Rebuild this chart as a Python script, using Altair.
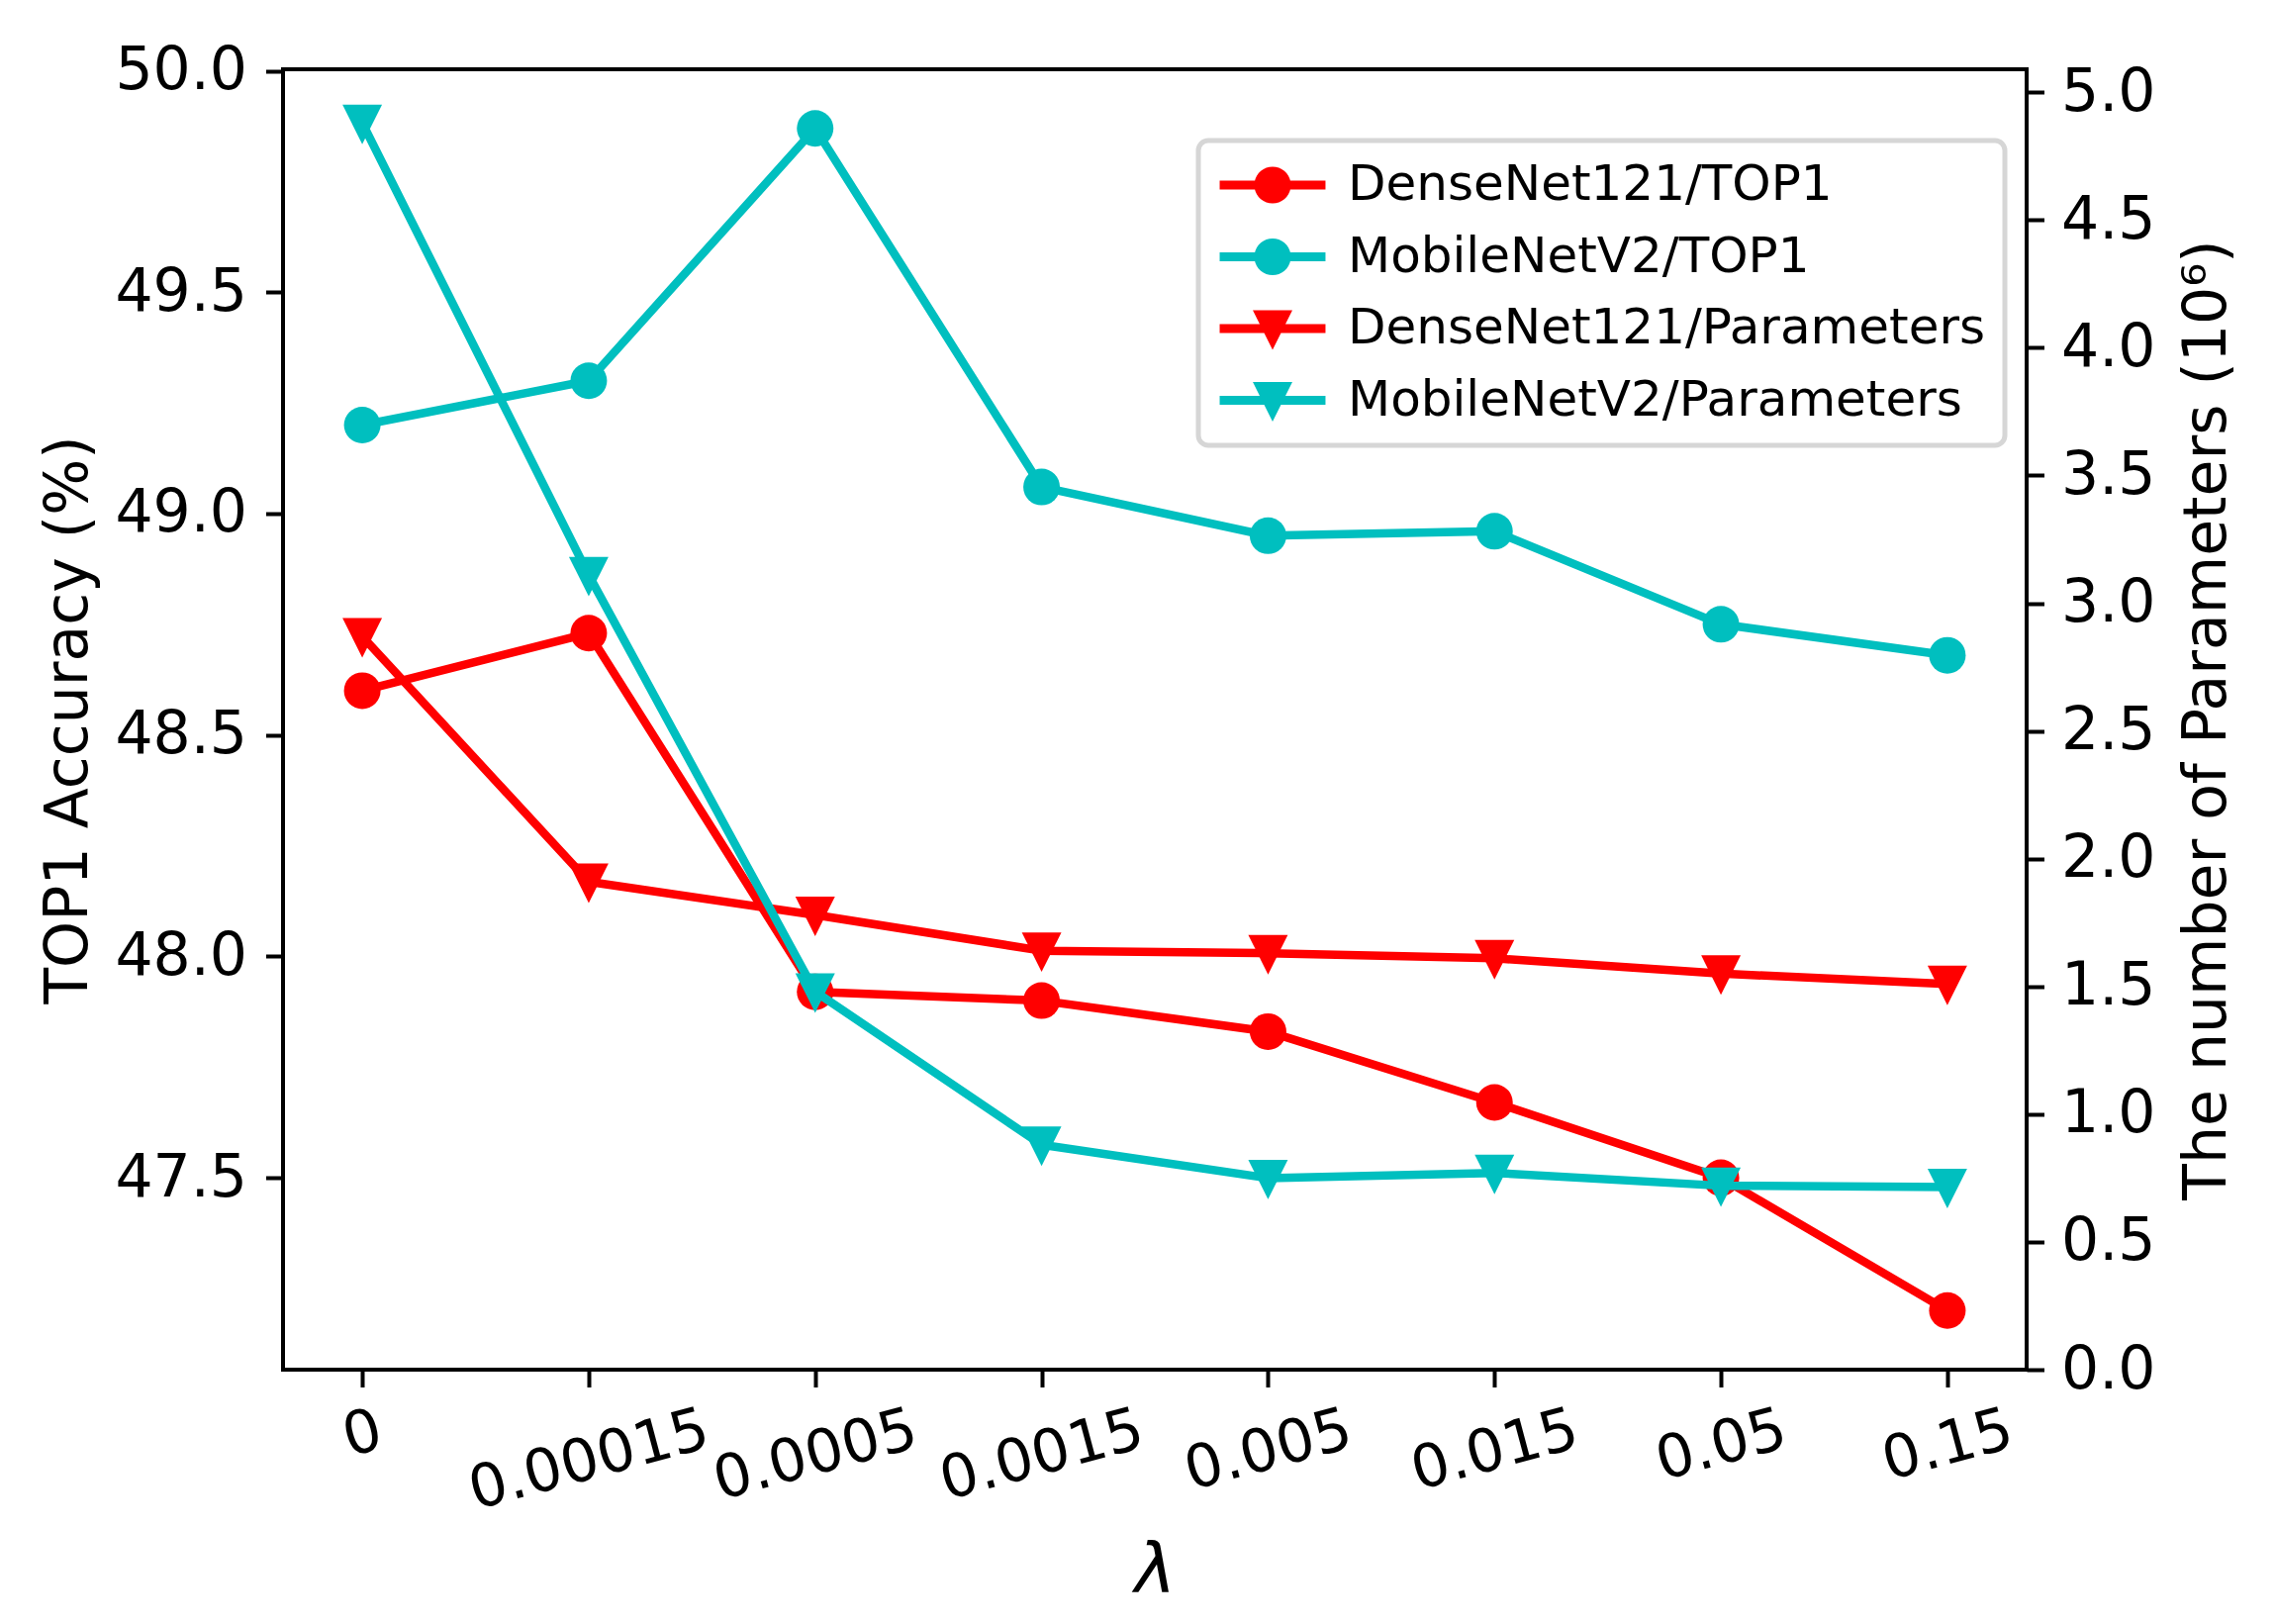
import math
import altair as alt
import pandas as pd

# ---------------- data ----------------
lam_labels = ["0", "0.00015", "0.0005", "0.0015", "0.005", "0.015", "0.05", "0.15"]
dense_top1 = [48.60, 48.73, 47.92, 47.90, 47.83, 47.67, 47.50, 47.20]
mobile_top1 = [49.20, 49.30, 49.87, 49.06, 48.95, 48.96, 48.75, 48.68]
dense_params = [2.87, 1.91, 1.78, 1.64, 1.63, 1.61, 1.55, 1.51]
mobile_params = [4.88, 3.11, 1.48, 0.88, 0.75, 0.77, 0.72, 0.715]

series_names = ["DenseNet121/TOP1", "MobileNetV2/TOP1",
                "DenseNet121/Parameters", "MobileNetV2/Parameters"]
series_colors = ["#ff0000", "#00bfbf", "#ff0000", "#00bfbf"]

left_ticks = [47.5, 48.0, 48.5, 49.0, 49.5, 50.0]
right_ticks = [0.0, 0.5, 1.0, 1.5, 2.0, 2.5, 3.0, 3.5, 4.0, 4.5, 5.0]
left_domain = [47.0665, 50.0035]
right_domain = [0.0, 5.09]


def long_df(pairs):
    rows = []
    for name, vals in pairs:
        for lab, v in zip(lam_labels, vals):
            rows.append({"lam": lab, "series": name, "value": v})
    return pd.DataFrame(rows)


acc_df = long_df([(series_names[0], dense_top1), (series_names[1], mobile_top1)])
par_df = long_df([(series_names[2], dense_params), (series_names[3], mobile_params)])

# ---------------- marker shapes (unit box -1..1) ----------------
MARKER_SIZE = 1369  # (37 px)^2


def circle_path(n=36):
    pts = [(math.cos(2 * math.pi * k / n), math.sin(2 * math.pi * k / n)) for k in range(n)]
    return "M" + "L".join(f"{x:.4f},{y:.4f}" for x, y in pts) + "Z"


TRI = "M0,1.16L-1.08,-1.0L1.08,-1.0Z"
BAR = "M-2.89,-0.24L2.89,-0.24L2.89,0.24L-2.89,0.24Z"
CIRC = circle_path()
legend_shapes = [BAR + CIRC, BAR + CIRC, BAR + TRI, BAR + TRI]

# ---------------- encodings ----------------
pad_cond = {
    "condition": [
        {"test": "length(datum.label) == 1", "value": 47.6},
        {"test": "length(datum.label) == 4", "value": 59.2},
        {"test": "length(datum.label) == 5", "value": 64.1},
        {"test": "length(datum.label) == 6", "value": 69.1},
    ],
    "value": 74.1,
}

x_axis = alt.Axis(
    title="λ", labelAngle=345, labelAlign="center", labelBaseline="middle",
    labelPadding=pad_cond, labelOverlap=False, labelFlush=False, labelLimit=1000,
    titleFontSize=70, titleFontStyle="italic", titleBaseline="alphabetic",
    titleY=224,
)
x_enc = alt.X("lam:N", scale=alt.Scale(type="point", domain=lam_labels, padding=0.35),
              axis=x_axis)

y_left = alt.Y("value:Q",
               scale=alt.Scale(domain=left_domain, nice=False, zero=False),
               axis=alt.Axis(orient="left", title="TOP1 Accuracy (%)", values=left_ticks,
                             format=".1f", labelPadding=19, titleAngle=270,
                             titleBaseline="alphabetic", titleAlign="center",
                             titleX=-199, titleY=657))
y_right = alt.Y("value:Q",
                scale=alt.Scale(domain=right_domain, nice=False, zero=False),
                axis=alt.Axis(orient="right", title="The number of Parameters (10⁶)",
                              values=right_ticks, format=".1f", labelPadding=17,
                              titleAngle=270, titleBaseline="alphabetic",
                              titleAlign="center", titleX=200, titleY=657))


def series_layers(df, idx, shape, y_enc):
    name, col = series_names[idx], series_colors[idx]
    base = alt.Chart(df).transform_filter(alt.datum.series == name)
    line = base.mark_line(strokeWidth=8.5, strokeJoin="round", strokeCap="square",
                          color=col).encode(x=x_enc, y=y_enc)
    pts = base.mark_point(filled=True, opacity=1, size=MARKER_SIZE, shape=shape,
                          strokeWidth=0, color=col).encode(x=x_enc, y=y_enc)
    return [line, pts]


leg = alt.Legend(
    title=None, orient="none", legendX=925, legendY=72, direction="vertical",
    symbolSize=MARKER_SIZE, symbolStrokeWidth=0, symbolOffset=30, symbolOpacity=1,
    labelOffset=51, labelFont="DejaVu Sans", labelFontSize=50, labelColor="black",
    labelLimit=2000, padding=20, rowPadding=22.5, strokeColor="#d6d6d6",
    fillColor="white", cornerRadius=10,
)

# a layer with no visible marks whose only role is to carry the legend
legend_layer = alt.Chart(acc_df).transform_filter("false").mark_point(
    filled=True, opacity=1).encode(
    x=x_enc, y=y_left,
    fill=alt.Fill("series:N", scale=alt.Scale(domain=series_names, range=series_colors),
                  legend=leg),
    shape=alt.Shape("series:N", scale=alt.Scale(domain=series_names, range=legend_shapes),
                    legend=leg),
)

left = alt.layer(
    *series_layers(acc_df, 0, "circle", y_left),
    *series_layers(acc_df, 1, "circle", y_left),
    legend_layer,
)
right = alt.layer(
    *series_layers(par_df, 2, TRI, y_right),
    *series_layers(par_df, 3, TRI, y_right),
)

chart = alt.layer(left, right).resolve_scale(y="independent").properties(
    width=1762, height=1314,
    autosize=alt.AutoSizeParams(type="none"),
    padding={"left": 278, "top": 62, "right": 240, "bottom": 250},
    background="white",
).configure_view(
    stroke="black", strokeWidth=4,
).configure_axis(
    domain=False, grid=False, ticks=True, tickColor="black", tickSize=17.5, tickWidth=4,
    labelFont="DejaVu Sans", labelFontSize=60, labelColor="black",
    titleFont="DejaVu Sans", titleFontSize=60, titleFontWeight="normal", titleColor="black",
).configure_legend(
    strokeWidth=5,
)

chart.save("out.html", embed_options={"renderer": "svg", "actions": False})
